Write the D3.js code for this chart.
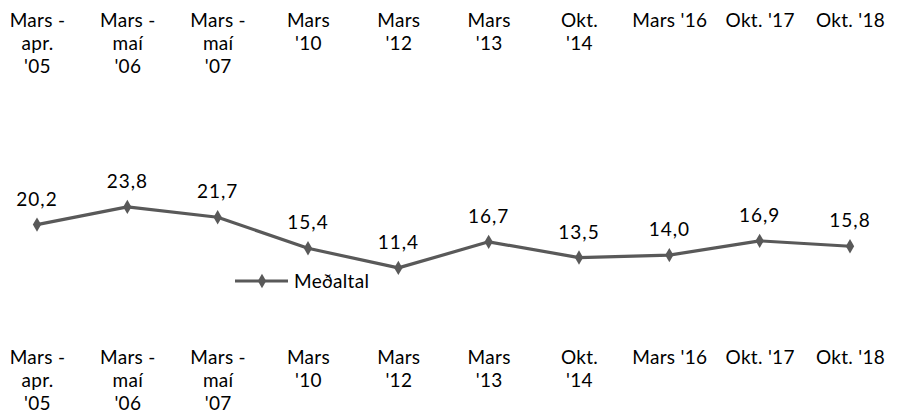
<!doctype html>
<html lang="is">
<head>
  <meta charset="utf-8">
  <title>Meðaltal</title>
</head>
<style>
body {
	margin: 0;
	background: #fff;
	font-family: Lato, "Open Sans", sans-serif;
}
</style>
<body>
  <script src="https://cdn.jsdelivr.net/npm/d3@7"></script>
  <script>

	// category labels, one array of lines per tick
	var periods = ["p05", "p06", "p07", "p10", "p12", "p13", "p14", "p16", "p17", "p18"];
	var tickLabels = [
		["Mars -", "apr.", "'05"],
		["Mars -", "maí", "'06"],
		["Mars -", "maí", "'07"],
		["Mars", "'10"],
		["Mars", "'12"],
		["Mars", "'13"],
		["Okt.", "'14"],
		["Mars '16"],
		["Okt. '17"],
		["Okt. '18"]
	];
	var avgValues = [20.2, 23.8, 21.7, 15.4, 11.4, 16.7, 13.5, 14.0, 16.9, 15.8];
	var seriesName = "Meðaltal";

	var width = 908,
		height = 413,
		fontSize = "19px";

	var svg = d3.select("body").append("svg")
		.attr("width", width)
		.attr("height", height);

	var x = d3.scalePoint()
		.domain(periods)
		.range([37, 850]);

	var y = d3.scaleLinear()
		.domain([0, 25])
		.range([324, 201]);

	var fmt = function (v) { return d3.format(".1f")(v).replace(".", ","); };

	function multiLine(sel) {
		sel.selectAll(".tick text").each(function (d, i) {
			var t = d3.select(this).text(null);
			tickLabels[i].forEach(function (line, j) {
				t.append("tspan")
					.attr("x", 0)
					.attr("dy", j == 0 ? 0 : 23)
					.text(line);
			});
		});
	}

	function labelAxis(yPos) {
		var g = svg.append("g")
			.call(d3.axisBottom(x).tickSize(0).tickPadding(0));
		g.select(".domain").remove();
		g.selectAll(".tick text")
			.attr("y", yPos)
			.attr("dy", null)
			.attr("font-size", fontSize)
			.attr("letter-spacing", "0.3px")
			.attr("font-family", "Lato, sans-serif")
			.attr("fill", "#000");
		multiLine(g);
	}

	labelAxis(27);   // top
	labelAxis(364);  // bottom

	var line = d3.line()
		.x(function (d, i) { return x(periods[i]); })
		.y(function (d) { return y(d); });

	svg.append("path")
		.datum(avgValues)
		.attr("d", line)
		.attr("fill", "none")
		.attr("stroke", "#595959")
		.attr("stroke-width", 3.2)
		.attr("stroke-linejoin", "round");

	var diamond = d3.symbol().type(d3.symbolDiamond).size(60);

	svg.selectAll(".pt")
		.data(avgValues)
		.join("path")
		.classed("pt", true)
		.attr("d", diamond)
		.attr("transform", function (d, i) {
			return "translate(" + x(periods[i]) + "," + y(d) + ")";
		})
		.attr("fill", "#595959");

	svg.selectAll(".val")
		.data(avgValues)
		.join("text")
		.classed("val", true)
		.attr("x", function (d, i) { return x(periods[i]); })
		.attr("y", function (d) { return y(d) - 19; })
		.attr("text-anchor", "middle")
		.attr("font-size", fontSize)
		.attr("letter-spacing", "1px")
		.attr("fill", "#000")
		.text(fmt);

	// legend
	var lg = svg.append("g").attr("transform", "translate(235,281)");
	lg.append("line")
		.attr("x1", 0).attr("x2", 53)
		.attr("stroke", "#595959")
		.attr("stroke-width", 3.2);
	lg.append("path")
		.attr("d", diamond)
		.attr("transform", "translate(27,0)")
		.attr("fill", "#595959");
	lg.append("text")
		.attr("x", 59)
		.attr("y", 7)
		.attr("font-size", fontSize)
		.attr("letter-spacing", "0.3px")
		.attr("fill", "#000")
		.text(seriesName);

  </script>
</body>
</html>
